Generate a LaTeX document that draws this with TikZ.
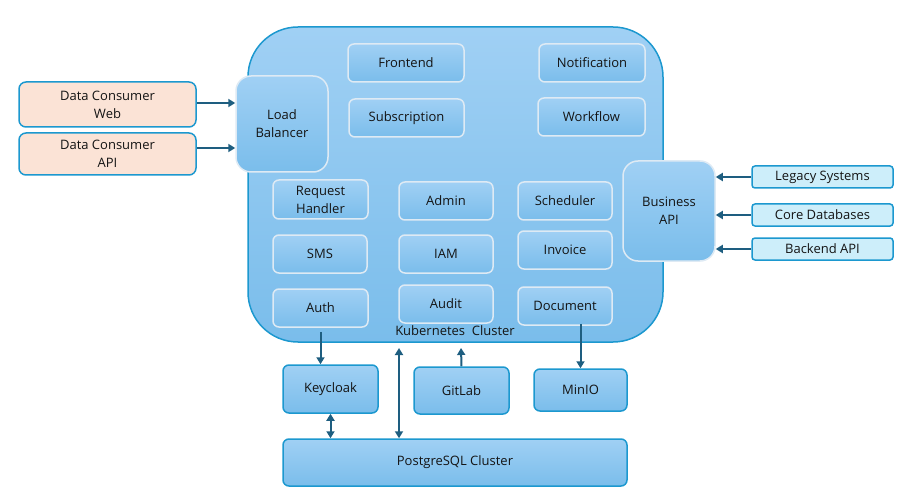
\documentclass[tikz,border=0pt]{standalone}
\usepackage{fontspec}
\setmainfont{Open Sans}
\usepackage{xcolor}
\usepackage{tikz}
\usetikzlibrary{arrows.meta, positioning, calc}
\definecolor{clusterline}{RGB}{28, 152, 207}
\definecolor{svcline}{RGB}{222, 234, 244}
\definecolor{bluetop}{RGB}{160, 208, 244}
\definecolor{bluebot}{RGB}{122, 189, 235}
\definecolor{arrowblue}{RGB}{30, 94, 128}
\definecolor{peach}{RGB}{251, 227, 214}
\definecolor{paleblue}{RGB}{205, 238, 250}
\definecolor{inktext}{RGB}{20, 20, 20}
\tikzstyle{line} = [draw, -{Triangle[length=7pt,width=8pt]}, line width=2pt, arrowblue]
\tikzstyle{dline} = [draw, {Triangle[length=7pt,width=8pt]}-{Triangle[length=7pt,width=8pt]}, line width=2pt, arrowblue]
\tikzstyle{svc} = [draw=svcline, line width=1.5pt, rounded corners=6pt, top color=bluetop, bottom color=bluebot, align=center, inner sep=0pt]
\tikzstyle{ext} = [draw=clusterline, line width=1.5pt, rounded corners=6pt, top color=bluetop, bottom color=bluebot, align=center, inner sep=0pt]

\begin{document}
\begin{tikzpicture}[x=1pt, y=-1pt, font=\fontsize{13}{18}\selectfont, text=inktext]
    \useasboundingbox (0,0) rectangle (911,500);
    % cluster
    \node (k8s) [draw=clusterline, line width=1.5pt, rounded corners=50pt, top color=bluetop, bottom color=bluebot, minimum width=415pt, minimum height=315pt] at (455.5,184.5) {};
    \node (k8slabel) at (455,331) {Kubernetes\ \ Cluster};

    \node (lb) [svc, rounded corners=15pt, minimum width=92pt, minimum height=96pt] at (282,124) {Load\\Balancer};
    \node (biz) [svc, rounded corners=15pt, minimum width=92pt, minimum height=100pt] at (669,211) {Business\\API};

    \node (frontend) [svc, minimum width=116pt, minimum height=38pt] at (406,63) {Frontend};
    \node (notif) [svc, minimum width=106pt, minimum height=38pt] at (592,63) {Notification};
    \node (subs) [svc, minimum width=115pt, minimum height=38pt] at (406.5,118) {Subscription};
    \node (workflow) [svc, minimum width=107pt, minimum height=38pt] at (591.5,117) {Workflow};

    \node (reqh) [svc, minimum width=95pt, minimum height=39pt] at (320.5,199.5) {Request\\Handler};
    \node (admin) [svc, minimum width=94pt, minimum height=38pt] at (446,201) {Admin};
    \node (sched) [svc, minimum width=94pt, minimum height=38pt] at (565,201) {Scheduler};
    \node (sms) [svc, minimum width=94pt, minimum height=38pt] at (320,254) {SMS};
    \node (iam) [svc, minimum width=94pt, minimum height=38pt] at (446,254) {IAM};
    \node (invoice) [svc, minimum width=94pt, minimum height=38pt] at (565,250) {Invoice};
    \node (auth) [svc, minimum width=95pt, minimum height=38pt] at (320.5,308) {Auth};
    \node (audit) [svc, minimum width=94pt, minimum height=38pt] at (446,304) {Audit};
    \node (doc) [svc, minimum width=94pt, minimum height=38pt] at (565,306) {Document};

    % consumers
    \node (dcweb) [draw=clusterline, line width=1.5pt, rounded corners=7pt, fill=peach, align=center, minimum width=177pt, minimum height=45pt, inner sep=0pt] at (107.5,104.5) {Data Consumer\\Web};
    \node (dcapi) [draw=clusterline, line width=1.5pt, rounded corners=7pt, fill=peach, align=center, minimum width=177pt, minimum height=42pt, inner sep=0pt] at (107.5,154) {Data Consumer\\API};

    % sources
    \node (legacy) [draw=clusterline, line width=1.5pt, rounded corners=3pt, fill=paleblue, minimum width=141pt, minimum height=22pt, inner sep=0pt] at (822.5,177) {Legacy Systems};
    \node (coredb) [draw=clusterline, line width=1.5pt, rounded corners=3pt, fill=paleblue, minimum width=141pt, minimum height=22pt, inner sep=0pt] at (822.5,215) {Core Databases};
    \node (backend) [draw=clusterline, line width=1.5pt, rounded corners=3pt, fill=paleblue, minimum width=141pt, minimum height=22pt, inner sep=0pt] at (822.5,249) {Backend API};

    % below the cluster
    \node (keycloak) [ext, minimum width=95pt, minimum height=48pt] at (330.5,389) {Keycloak};
    \node (gitlab) [ext, minimum width=95pt, minimum height=47pt] at (461.5,390.5) {GitLab};
    \node (minio) [ext, minimum width=93pt, minimum height=42pt] at (580.5,390) {MinIO};
    \node (pg) [ext, minimum width=344pt, minimum height=47pt] at (455,462.5) {PostgreSQL Cluster};

    \coordinate (pgend) at (399,348);
    \coordinate (gitend) at (461,348);

    \draw [line] (dcweb.east |- 0,103) -- (lb.west |- 0,103);
    \draw [line] (dcapi.east |- 0,148) -- (lb.west |- 0,148);
    \draw [line] (legacy.west) -- (legacy.west -| biz.east);
    \draw [line] (coredb.west) -- (coredb.west -| biz.east);
    \draw [line] (backend.west) -- (backend.west -| biz.east);

    \draw [line, shorten <=4pt] (auth.south) -- (auth.south |- keycloak.north);
    \draw [line, shorten <=-2pt] (minio.north |- doc.south) -- (minio.north);
    \draw [line] (gitlab.north) -- (gitend);
    \draw [dline] (pgend |- pg.north) -- (pgend);
    \draw [dline] (keycloak.south) -- (keycloak.south |- pg.north);
\end{tikzpicture}
\end{document}
